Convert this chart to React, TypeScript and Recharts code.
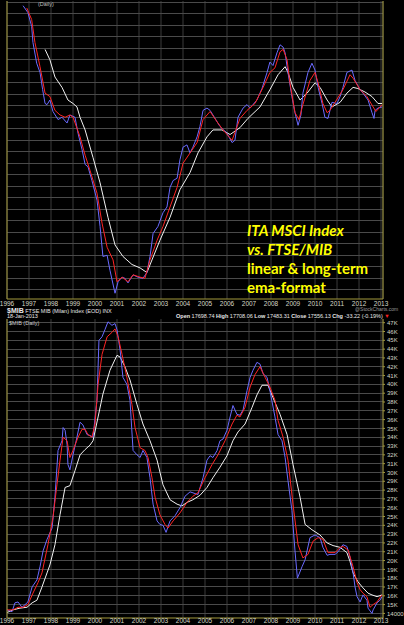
import { LineChart, Line, XAxis, YAxis, CartesianGrid } from "recharts";

// x axis: decimal years, one grid line per year
const YEARS = [1996, 1997, 1998, 1999, 2000, 2001, 2002, 2003, 2004, 2005, 2006, 2007, 2008, 2009, 2010, 2011, 2012, 2013];
const X_DOMAIN = [1996, 2013.09];

// top panel has no scale labels, only grid lines
const ITA_GRID = [0.8, 1.8, 2.8, 3.8, 4.8, 5.8, 6.8, 7.8, 8.8, 9.8, 10.8, 11.8, 12.8, 13.8, 14.8, 15.8, 16.8, 17.8, 18.8, 19.8, 20.8, 21.8, 22.8, 23.8, 24.8, 25.8];
const ITA_DOMAIN = [0, 25.91];

// bottom panel, thousands of points
const MIB_TICKS = [14, 15, 16, 17, 18, 19, 20, 21, 22, 23, 24, 25, 26, 27, 28, 29, 30, 31, 32, 33, 34, 35, 36, 37, 38, 39, 40, 41, 42, 43, 44, 45, 46, 47];
const MIB_DOMAIN = [13.48, 47.42];

const itaClose: [number, number][] = [
  [1996.73, 25.5], [1996.95, 24.9], [1997.12, 23.7], [1997.18, 22.3], [1997.35, 20.5], [1997.5, 19.7], [1997.62, 18.2],
  [1997.73, 17.0], [1997.82, 16.9], [1997.95, 17.3], [1998.09, 16.3], [1998.32, 15.6], [1998.5, 15.8], [1998.73, 15.3],
  [1998.86, 16.0], [1999.09, 15.8], [1999.23, 14.4], [1999.41, 13.0], [1999.55, 11.7], [1999.68, 11.5], [1999.86, 10.3],
  [2000.09, 8.6], [2000.23, 6.3], [2000.36, 3.7], [2000.55, 3.8], [2000.68, 2.5], [2000.91, 0.5], [2001.05, 1.5],
  [2001.23, 1.9], [2001.36, 1.8], [2001.5, 1.4], [2001.73, 2.1], [2001.95, 1.9], [2002.18, 1.8], [2002.36, 2.3],
  [2002.5, 3.7], [2002.64, 5.7], [2002.86, 6.3], [2003.09, 7.5], [2003.27, 8.0], [2003.41, 9.7], [2003.55, 10.3],
  [2003.73, 10.5], [2003.86, 12.1], [2004.0, 13.2], [2004.18, 13.4], [2004.32, 12.7], [2004.45, 13.2], [2004.64, 14.1],
  [2004.77, 15.0], [2004.91, 16.4], [2005.09, 16.6], [2005.23, 16.4], [2005.36, 16.0], [2005.68, 15.0], [2006.0, 14.4],
  [2006.23, 13.6], [2006.36, 13.8], [2006.5, 15.8], [2006.73, 16.6], [2006.91, 16.9], [2007.05, 16.6], [2007.36, 17.3],
  [2007.59, 18.3], [2007.82, 19.7], [2007.95, 20.6], [2008.09, 20.3], [2008.27, 21.4], [2008.41, 22.1], [2008.55, 21.9],
  [2008.64, 21.4], [2008.77, 19.7], [2008.95, 17.6], [2009.09, 16.2], [2009.23, 15.1], [2009.36, 16.0], [2009.45, 17.9],
  [2009.68, 19.7], [2009.86, 20.5], [2010.0, 19.9], [2010.14, 18.4], [2010.32, 17.0], [2010.45, 15.8], [2010.59, 15.7],
  [2010.77, 17.1], [2011.0, 17.0], [2011.14, 17.6], [2011.27, 18.4], [2011.45, 19.7], [2011.68, 19.9], [2011.82, 19.0],
  [2012.05, 18.2], [2012.18, 17.9], [2012.41, 17.3], [2012.59, 16.2], [2012.68, 15.7], [2012.73, 16.4], [2012.86, 16.6],
  [2013.05, 16.7],
];

const itaEmaShort: [number, number][] = [
  [1996.9, 25.3], [1997.12, 24.3], [1997.27, 22.3], [1997.5, 20.2], [1997.73, 17.9], [1997.95, 17.6], [1998.18, 16.4],
  [1998.41, 16.0], [1998.64, 15.8], [1998.86, 16.0], [1999.0, 15.8], [1999.32, 14.1], [1999.55, 12.5], [1999.77, 11.2],
  [2000.09, 9.2], [2000.32, 6.6], [2000.55, 4.5], [2000.82, 3.4], [2001.0, 1.5], [2001.23, 1.9], [2001.5, 1.5],
  [2001.73, 2.1], [2002.05, 1.9], [2002.27, 1.8], [2002.5, 3.4], [2002.82, 5.1], [2003.09, 6.3], [2003.41, 8.0],
  [2003.73, 9.7], [2004.0, 11.8], [2004.32, 12.7], [2004.64, 13.6], [2004.91, 15.6], [2005.23, 16.3], [2005.55, 15.4],
  [2005.82, 14.7], [2006.23, 13.8], [2006.59, 15.7], [2006.91, 16.4], [2007.27, 17.0], [2007.64, 18.4], [2007.95, 19.7],
  [2008.18, 20.1], [2008.41, 21.5], [2008.55, 21.7], [2008.73, 20.8], [2008.86, 18.8], [2009.09, 16.2], [2009.27, 15.6],
  [2009.45, 16.9], [2009.77, 19.0], [2010.0, 19.7], [2010.14, 18.8], [2010.36, 17.0], [2010.55, 16.2], [2010.68, 16.4],
  [2010.91, 17.1], [2011.27, 18.2], [2011.59, 19.5], [2011.73, 19.2], [2012.05, 18.2], [2012.36, 17.6], [2012.64, 16.7],
  [2012.77, 16.3], [2013.05, 16.9],
];

const itaEmaLong: [number, number][] = [
  [1997.73, 21.7], [1997.95, 20.8], [1998.18, 19.3], [1998.5, 18.4], [1998.77, 17.3], [1999.0, 17.0], [1999.18, 16.7],
  [1999.32, 15.8], [1999.55, 14.7], [1999.91, 12.3], [2000.23, 10.1], [2000.59, 7.1], [2000.91, 4.7], [2001.27, 3.7],
  [2001.68, 3.0], [2002.05, 2.7], [2002.36, 2.3], [2002.59, 3.4], [2002.95, 5.1], [2003.41, 7.1], [2003.86, 9.5],
  [2004.32, 11.0], [2004.68, 12.7], [2005.09, 14.1], [2005.36, 14.7], [2005.77, 14.7], [2006.14, 14.3], [2006.59, 14.9],
  [2006.95, 15.7], [2007.5, 16.7], [2007.95, 18.2], [2008.32, 19.5], [2008.64, 20.2], [2008.77, 19.7], [2009.0, 18.4],
  [2009.32, 17.3], [2009.64, 17.9], [2010.0, 18.8], [2010.23, 18.4], [2010.55, 17.3], [2010.77, 16.7], [2011.14, 17.1],
  [2011.45, 17.9], [2011.73, 18.4], [2011.95, 18.3], [2012.27, 18.0], [2012.59, 17.6], [2012.86, 17.0], [2013.05, 17.0],
];

const mibClose: [number, number][] = [
  [1996.0, 14.4], [1996.23, 14.2], [1996.36, 15.2], [1996.5, 15.3], [1996.68, 14.7], [1996.82, 15.0], [1996.95, 15.3],
  [1997.14, 17.0], [1997.36, 17.8], [1997.5, 19.3], [1997.64, 21.1], [1997.82, 22.4], [1998.05, 23.7], [1998.18, 27.2],
  [1998.32, 32.5], [1998.5, 33.6], [1998.55, 35.1], [1998.64, 34.8], [1998.73, 33.2], [1998.77, 30.9], [1998.86, 30.3],
  [1999.0, 32.0], [1999.18, 34.0], [1999.32, 35.7], [1999.45, 35.4], [1999.64, 34.3], [1999.77, 34.2], [1999.91, 34.0],
  [2000.09, 38.2], [2000.18, 45.0], [2000.32, 45.4], [2000.45, 46.2], [2000.59, 47.1], [2000.77, 46.7], [2000.91, 46.9],
  [2001.0, 46.2], [2001.14, 43.9], [2001.27, 40.8], [2001.45, 40.0], [2001.59, 38.2], [2001.73, 32.5], [2001.91, 32.0],
  [2002.05, 31.7], [2002.18, 32.5], [2002.36, 31.7], [2002.5, 29.4], [2002.64, 26.4], [2002.82, 24.5], [2002.95, 24.1],
  [2003.09, 24.0], [2003.23, 23.2], [2003.41, 24.5], [2003.64, 25.1], [2003.86, 26.0], [2004.09, 27.3], [2004.32, 27.8],
  [2004.55, 27.6], [2004.68, 27.5], [2004.91, 29.4], [2005.09, 31.4], [2005.23, 31.9], [2005.36, 31.7], [2005.55, 32.5],
  [2005.68, 33.6], [2005.82, 33.8], [2006.0, 34.8], [2006.14, 36.3], [2006.27, 37.6], [2006.45, 36.6], [2006.59, 36.5],
  [2006.73, 37.1], [2006.91, 39.3], [2007.05, 40.8], [2007.18, 41.6], [2007.36, 42.5], [2007.5, 42.3], [2007.64, 41.2],
  [2007.82, 40.8], [2007.95, 39.3], [2008.18, 36.3], [2008.32, 34.3], [2008.5, 33.6], [2008.64, 31.7], [2008.77, 29.1],
  [2008.95, 25.7], [2009.09, 21.1], [2009.2, 18.0], [2009.41, 19.3], [2009.55, 20.1], [2009.77, 22.6], [2010.0, 22.9],
  [2010.23, 22.6], [2010.36, 21.5], [2010.55, 20.6], [2010.68, 20.7], [2010.91, 20.7], [2011.05, 21.0], [2011.27, 21.8],
  [2011.45, 21.6], [2011.59, 20.4], [2011.73, 18.6], [2011.82, 17.0], [2011.91, 15.9], [2012.05, 15.3], [2012.18, 16.1],
  [2012.36, 15.5], [2012.41, 14.6], [2012.59, 14.0], [2012.64, 14.4], [2012.82, 15.2], [2012.95, 15.5], [2013.05, 15.9],
];

const mibEmaShort: [number, number][] = [
  [1996.0, 14.4], [1996.27, 14.4], [1996.5, 14.7], [1996.73, 14.7], [1996.95, 15.0], [1997.18, 16.3], [1997.41, 17.5],
  [1997.59, 18.6], [1997.86, 21.8], [1998.09, 24.9], [1998.27, 28.6], [1998.41, 31.4], [1998.55, 34.0], [1998.73, 33.6],
  [1998.86, 31.7], [1999.0, 32.5], [1999.23, 34.0], [1999.41, 34.9], [1999.55, 34.9], [1999.68, 34.3], [1999.86, 34.0],
  [2000.0, 35.5], [2000.14, 40.0], [2000.32, 43.4], [2000.55, 45.4], [2000.77, 45.9], [2000.91, 46.3], [2001.05, 45.4],
  [2001.23, 43.4], [2001.45, 40.8], [2001.68, 37.7], [2001.82, 35.1], [2002.05, 32.8], [2002.27, 32.5], [2002.41, 31.7],
  [2002.59, 29.4], [2002.73, 27.2], [2002.95, 25.2], [2003.18, 24.1], [2003.32, 23.7], [2003.55, 24.5], [2003.86, 25.4],
  [2004.18, 26.6], [2004.45, 27.3], [2004.68, 27.7], [2005.0, 29.4], [2005.32, 30.9], [2005.59, 32.0], [2005.91, 33.6],
  [2006.23, 35.5], [2006.45, 36.5], [2006.59, 36.3], [2006.82, 37.4], [2007.05, 39.7], [2007.27, 41.1], [2007.5, 42.0],
  [2007.73, 40.8], [2007.95, 39.7], [2008.18, 38.2], [2008.32, 35.9], [2008.55, 34.0], [2008.77, 31.4], [2009.0, 26.4],
  [2009.23, 21.8], [2009.45, 20.3], [2009.68, 20.7], [2009.91, 22.2], [2010.14, 22.6], [2010.36, 22.4], [2010.59, 20.9],
  [2010.91, 20.9], [2011.14, 21.5], [2011.27, 21.6], [2011.5, 21.2], [2011.73, 19.3], [2011.91, 17.5], [2012.05, 16.7],
  [2012.18, 16.3], [2012.36, 15.9], [2012.5, 14.7], [2012.64, 15.0], [2012.82, 15.3], [2012.95, 15.8], [2013.05, 16.1],
];

const mibEmaLong: [number, number][] = [
  [1996.0, 14.1], [1996.27, 14.4], [1996.59, 14.6], [1996.91, 14.7], [1997.14, 15.2], [1997.36, 15.5], [1997.59, 17.0],
  [1997.82, 18.6], [1997.95, 19.5], [1998.18, 21.8], [1998.41, 25.2], [1998.64, 28.3], [1998.86, 28.5], [1999.09, 30.2],
  [1999.32, 32.0], [1999.55, 32.6], [1999.77, 33.1], [1999.91, 33.6], [2000.14, 36.3], [2000.36, 38.9], [2000.68, 41.6],
  [2001.0, 43.3], [2001.14, 43.1], [2001.36, 42.0], [2001.59, 40.5], [2001.91, 37.7], [2002.18, 35.5], [2002.5, 33.6],
  [2002.82, 31.4], [2003.09, 28.6], [2003.41, 26.9], [2003.73, 26.4], [2003.95, 26.2], [2004.18, 26.6], [2004.45, 26.9],
  [2004.77, 27.4], [2005.09, 28.3], [2005.36, 29.4], [2005.68, 30.6], [2006.0, 31.9], [2006.27, 33.6], [2006.5, 34.6],
  [2006.82, 35.5], [2007.14, 37.4], [2007.36, 38.8], [2007.59, 39.9], [2007.86, 39.9], [2008.09, 38.5], [2008.41, 36.6],
  [2008.73, 34.3], [2009.0, 30.9], [2009.32, 27.2], [2009.55, 24.1], [2009.86, 23.5], [2010.23, 22.9], [2010.55, 22.0],
  [2010.82, 21.7], [2011.14, 21.5], [2011.45, 20.9], [2011.59, 19.9], [2011.73, 18.6], [2011.95, 17.6], [2012.18, 16.9],
  [2012.41, 16.3], [2012.59, 16.1], [2012.82, 15.9], [2013.05, 16.1],
];

const BORDER = "#a39a3c";
const GRID = "#3a3a3a";
const ROW = "#4a4a4a";
const BLUE = "#6a6aff";
const RED = "#ff2424";
const WHITE = "#f2f2f2";
const LABEL = "#d6d6c6";
const SMALL_FONT = "'Liberation Sans', Arial, sans-serif";

const toRows = (pts: [number, number][]) => pts.map(([t, v]) => ({ t, v }));

const NoTick = () => <g />;

interface PanelProps {
  close: [number, number][];
  emaShort: [number, number][];
  emaLong: [number, number][];
  domain: number[];
  grid: number[];
  height: number;
  xAxisHeight: number;
  xTickMargin: number;
  rightLabels: boolean;
}

function Panel({ close, emaShort, emaLong, domain, grid, height, xAxisHeight, xTickMargin, rightLabels }: PanelProps) {
  return (
    <LineChart width={404} height={height} margin={{ top: 1, right: 0, bottom: 0, left: 0 }}>
      <CartesianGrid stroke={GRID} strokeWidth={1} horizontal={false} />
      {/* horizontal grid rows, one flat segment per tick value across the date range */}
      {grid.map((v) => (
        <Line
          key={`g${v}`}
          yAxisId="r"
          data={[{ t: 1996, v }, { t: 2013.09, v }]}
          dataKey="v"
          type="linear"
          stroke={ROW}
          strokeWidth={1}
          shapeRendering="crispEdges"
          dot={false}
          activeDot={false}
          isAnimationActive={false}
        />
      ))}
      <XAxis
        dataKey="t"
        type="number"
        domain={X_DOMAIN}
        ticks={YEARS}
        interval={0}
        height={xAxisHeight}
        tick={{ fontSize: 6.5, fill: LABEL, fontFamily: SMALL_FONT }}
        tickLine={false}
        tickSize={0}
        tickMargin={xTickMargin}
        axisLine={{ stroke: BORDER }}
      />
      <XAxis
        xAxisId="top"
        orientation="top"
        dataKey="t"
        type="number"
        domain={X_DOMAIN}
        height={0}
        tick={false}
        tickLine={false}
        axisLine={{ stroke: BORDER }}
      />
      <YAxis type="number" domain={domain} width={7} tick={false} tickLine={false} axisLine={{ stroke: BORDER }} />
      <YAxis
        yAxisId="r"
        orientation="right"
        type="number"
        domain={domain}
        ticks={grid}
        interval={0}
        width={21}
        tick={rightLabels ? { fontSize: 6, fill: LABEL, fontFamily: SMALL_FONT } : NoTick}
        tickFormatter={(v: number) => (v === 14 ? "14000" : `${v}K`)}
        tickSize={2}
        tickMargin={2}
        tickLine={rightLabels ? { stroke: BORDER } : false}
        axisLine={{ stroke: BORDER }}
      />
      <Line yAxisId="r" data={toRows(emaLong)} dataKey="v" type="linear" stroke={WHITE} strokeWidth={1} dot={false} isAnimationActive={false} />
      <Line yAxisId="r" data={toRows(close)} dataKey="v" type="linear" stroke={BLUE} strokeWidth={1} dot={false} isAnimationActive={false} />
      <Line yAxisId="r" data={toRows(emaShort)} dataKey="v" type="linear" stroke={RED} strokeWidth={1} dot={false} isAnimationActive={false} />
    </LineChart>
  );
}

const small = {
  fontFamily: SMALL_FONT,
  fontSize: 5.5,
  color: "#e8e8e8",
  whiteSpace: "nowrap" as const,
  position: "absolute" as const,
  lineHeight: "7px",
};
const bold = { fontWeight: 700 };

export default function App() {
  return (
    <div style={{ position: "fixed", left: 0, top: 0, width: 404, height: 625, background: "#000", overflow: "hidden" }}>
      <div style={{ position: "absolute", left: 0, top: 0 }}>
        <Panel
          close={itaClose}
          emaShort={itaEmaShort}
          emaLong={itaEmaLong}
          domain={ITA_DOMAIN}
          grid={ITA_GRID}
          height={310}
          xAxisHeight={11}
          xTickMargin={2}
          rightLabels={false}
        />
      </div>
      <div style={{ position: "absolute", left: 0, top: 318 }}>
        <Panel
          close={mibClose}
          emaShort={mibEmaShort}
          emaLong={mibEmaLong}
          domain={MIB_DOMAIN}
          grid={MIB_TICKS}
          height={307}
          xAxisHeight={7}
          xTickMargin={0}
          rightLabels
        />
      </div>

      <div style={{ ...small, left: 38, top: 1, color: "#bdbdbd" }}>(Daily)</div>

      <div style={{ ...small, left: 7, top: 306.5 }}>
        <span style={{ ...bold, fontSize: 7 }}>$MIB</span> FTSE MIB (Milan) Index (EOD) INX
      </div>
      <div style={{ ...small, left: 355, top: 306, color: "#9a9a9a", fontSize: 5 }}>@StockCharts.com</div>
      <div style={{ ...small, left: 7, top: 313 }}>18-Jan-2013</div>
      <div style={{ ...small, left: 176, top: 313 }}>
        <span style={bold}>Open</span> 17698.74 <span style={bold}>High</span> 17708.06 <span style={bold}>Low</span> 17483.31{" "}
        <span style={bold}>Close</span> 17556.13 <span style={bold}>Chg</span> -33.22 (-0.19%)
        <span style={{ color: "#ff2020" }}> ▼</span>
      </div>
      <div style={{ ...small, left: 9, top: 320, color: "#c8c8c8" }}>$MIB (Daily)</div>

      <div
        style={{
          position: "absolute",
          left: 247,
          top: 221,
          fontFamily: "Lato, 'Open Sans', sans-serif",
          fontWeight: 700,
          fontSize: 15,
          lineHeight: "19px",
          color: "#ffff00",
          whiteSpace: "nowrap",
        }}
      >
        <div style={{ fontStyle: "italic" }}>ITA MSCI Index</div>
        <div style={{ fontStyle: "italic" }}>vs. FTSE/MIB</div>
        <div>linear &amp; long-term</div>
        <div>ema-format</div>
      </div>
    </div>
  );
}
